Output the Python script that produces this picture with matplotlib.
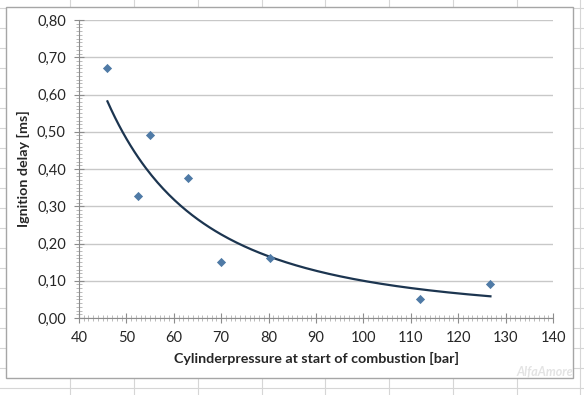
import numpy as np
import matplotlib
matplotlib.use("Agg")
import matplotlib.pyplot as plt
from matplotlib.lines import Line2D
from matplotlib.patches import Rectangle
from matplotlib.ticker import MultipleLocator, FuncFormatter

pressure = [46, 52.5, 55, 63, 70, 80.3, 112, 126.8]
delay = [0.671, 0.328, 0.491, 0.376, 0.151, 0.161, 0.051, 0.091]

x_ticks = [40, 50, 60, 70, 80, 90, 100, 110, 120, 130, 140]
y_ticks = [0.0, 0.1, 0.2, 0.3, 0.4, 0.5, 0.6, 0.7, 0.8]

plt.rcParams['font.family'] = ['Lato', 'DejaVu Sans']

fig = plt.figure(figsize=(5.84, 3.95), dpi=100)
fig.patch.set_facecolor('white')

# spreadsheet cells behind the chart
grid_col = '#d6d6d6'
for px in [70, 134, 198, 262, 325, 389, 453, 517, 580]:
    fig.add_artist(Line2D([px / 584, px / 584], [0, 1], transform=fig.transFigure,
                          color=grid_col, lw=0.8, zorder=0))
for py in range(8, 395, 20):
    fig.add_artist(Line2D([0, 1], [1 - py / 395, 1 - py / 395], transform=fig.transFigure,
                          color=grid_col, lw=0.8, zorder=0))

# chart area box
fig.add_artist(Rectangle((6 / 584, 1 - 378 / 395), 567 / 584, 371 / 395,
                         transform=fig.transFigure, facecolor='white',
                         edgecolor='#a6a6a6', lw=1.0, zorder=1))

ax = fig.add_axes([79 / 584, 1 - 318 / 395, 474 / 584, 298 / 395])
ax.set_zorder(2)
ax.set_facecolor('white')

ax.scatter(pressure, delay, marker='D', s=22, color='#4f7aa6', zorder=3, linewidths=0)

# power trendline like Excel: y = a * x^b, fitted in log-log space
b, ln_a = np.polyfit(np.log(pressure), np.log(delay), 1)
xs = np.linspace(min(pressure), max(pressure), 200)
ax.plot(xs, np.exp(ln_a) * xs ** b, color='#1c3550', lw=1.6, zorder=2)

ax.set_xlim(40, 140)
ax.set_ylim(0, 0.8)
ax.set_xticks(x_ticks)
ax.set_yticks(y_ticks)
ax.xaxis.set_minor_locator(MultipleLocator(1))
ax.yaxis.set_minor_locator(MultipleLocator(0.01))
ax.yaxis.set_major_formatter(FuncFormatter(lambda v, p: f"{v:.2f}".replace('.', ',')))

ax.grid(axis='y', color='#c8c8c8', lw=1.0)
ax.set_axisbelow(True)
for side in ['top', 'right']:
    ax.spines[side].set_visible(False)
for side in ['left', 'bottom']:
    ax.spines[side].set_color('#8c8c8c')
ax.tick_params(which='major', direction='inout', length=7, color='#8c8c8c',
               labelsize=10.5, labelcolor='#262626', pad=6)
ax.tick_params(which='minor', direction='inout', length=4, color='#b0b0b0', width=0.6)

ax.set_xlabel('Cylinderpressure at start of combustion [bar]', fontsize=10.3,
              fontweight='bold', color='#262626', labelpad=5)
ax.set_ylabel('Ignition delay [ms]', fontsize=10.3, fontweight='bold',
              color='#262626', labelpad=5)

# watermark in the corner
fig.text(545 / 584, 1 - 372 / 395, 'AlfaAmore', fontsize=9, style='italic',
         fontweight='bold', color='#e3e3e3', ha='center', va='center', zorder=5)

fig.savefig('out.png', dpi=100)
